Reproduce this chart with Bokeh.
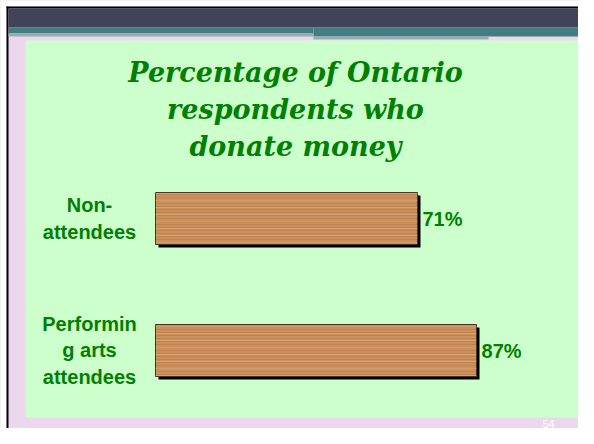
from bokeh.plotting import figure
from bokeh.models import Range1d
from bokeh.core.properties import value
from bokeh.embed import file_html
from bokeh.resources import INLINE

# ---- data ----
categories = ["Non-\nattendees", "Performin\ng arts\nattendees"]
percent = [71, 87]
value_labels = ["71%", "87%"]
title_text = "Percentage of Ontario\nrespondents who\ndonate money"
page_number = "54"

# ---- layout constants (canvas pixels) ----
W, H = 578, 428
X0_PX = 155.0      # canvas x of 0 %
PX_PER_PCT = 3.69
ROW0_PX = 218.0    # canvas y of the first row centre
ROW_STEP = 132.0   # pixels between rows


def px_x(cx):
    return (cx - X0_PX) / PX_PER_PCT


def px_y(cy):
    return (cy - ROW0_PX) / ROW_STEP


p = figure(width=W, height=H, output_backend="svg", toolbar_location=None,
           x_range=Range1d(px_x(0), px_x(W)),
           y_range=Range1d(px_y(H), px_y(0)),
           min_border=0, outline_line_color=None)
p.axis.visible = False
p.grid.visible = False
p.background_fill_color = "#ecd8ee"
p.border_fill_color = "#ecd8ee"

# ---- slide decoration ----
deco = [
    (0, W, 0, 6, "#ffffff"),
    (0, 6, 0, H, "#ffffff"),
    (6, W, 6, 8, "#000000"),
    (6, 8, 6, H, "#000000"),
    (8, W, 8, 27, "#41435a"),
    (8, 313, 27, 33, "#427d80"),
    (313, W, 27, 36, "#427d80"),
    (8, 313, 33, 36, "#9aabb2"),
    (313, 488, 36, 39, "#9aabb2"),
    (25, W, 40, 417, "#ccffcc"),
]
p.quad(left=[px_x(d[0]) for d in deco], right=[px_x(d[1]) for d in deco],
       top=[px_y(d[2]) for d in deco], bottom=[px_y(d[3]) for d in deco],
       fill_color=[d[4] for d in deco], line_color=None)

rows = list(range(len(categories)))
bar_h = 52 / ROW_STEP
sdx = 3 / PX_PER_PCT
sdy = 3 / ROW_STEP

# shadow
p.hbar(y=[r + sdy for r in rows], left=sdx, right=[v + sdx for v in percent],
       height=bar_h, fill_color="#000000", line_color=None)
# wood bar
p.hbar(y=rows, left=0, right=percent, height=bar_h,
       fill_color="#cb905c", line_color="#4a3320", line_width=1,
       hatch_pattern="-", hatch_scale=3, hatch_color="#a3653a",
       hatch_alpha=0.3, hatch_weight=1)
p.hbar(y=rows, left=0, right=percent, height=bar_h,
       fill_alpha=0, line_color=None,
       hatch_pattern="-", hatch_scale=7, hatch_color="#e6bd90",
       hatch_alpha=0.4, hatch_weight=1)

green = "#008000"
# value labels
p.text(x=percent, y=rows, text=value_labels, x_offset=5,
       text_align="left", text_baseline="middle",
       text_font=value("Liberation Sans"), text_font_style="bold",
       text_font_size="20px", text_color=green)
# category labels
p.text(x=[0] * len(rows), y=rows, text=categories, x_offset=-66,
       text_align="center", text_baseline="middle", text_line_height=1.2,
       text_font=value("Liberation Sans"), text_font_style="bold",
       text_font_size="20px", text_color=green)

# title
p.text(x=[px_x(295)], y=[px_y(56)], text=[title_text],
       text_align="center", text_baseline="top", text_line_height=1.2,
       text_font=value("DejaVu Serif"), text_font_style="bold italic",
       text_font_size="27px", text_color=green)

# page number
p.text(x=[px_x(548)], y=[px_y(427)], text=[page_number],
       text_align="center", text_baseline="bottom",
       text_font=value("Liberation Sans"), text_font_size="11px",
       text_color="#ffffff")

open("out.html", "w").write(file_html(p, INLINE))
